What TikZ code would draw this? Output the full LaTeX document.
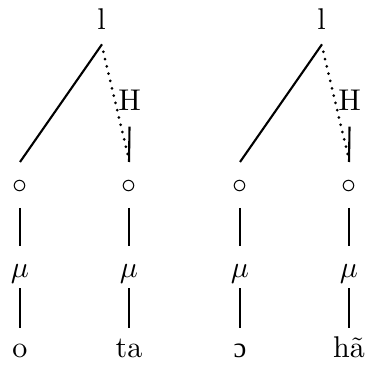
\documentclass[tikz,border=0pt]{standalone}
\usepackage{fontspec}
\newfontfamily\ipafont{Liberation Serif}
\usetikzlibrary{calc}
\tikzset{
  lbl/.style={inner sep=0pt, anchor=base},
  ln/.style={line width=0.7pt},
  dln/.style={line width=1pt, line cap=round, dash pattern=on 0pt off 2.5pt}
}
\begin{document}
\begin{tikzpicture}[x=0.3333pt, y=-0.3333pt]
\useasboundingbox (0,0) rectangle (366,367);
\foreach \dx/\ta/\tb/\s in {0/o/ta/1, 220/{\ipafont\fontsize{9.6pt}{12pt}\selectfont ɔ}/hã/2}{
  \node[lbl] (l\s) at (101.5+\dx,29.3) {l};
  \node[lbl] (h\s) at (129.5+\dx,110.7) {H};
  \node[lbl] (ca\s) at (20+\dx,193.5) {$\circ$};
  \node[lbl] (cb\s) at (129+\dx,193.5) {$\circ$};
  \node[lbl] (ma\s) at (20+\dx,277) {$\mu$};
  \node[lbl] (mb\s) at (129+\dx,277) {$\mu$};
  \node[lbl] (ba\s) at (20+\dx,357.5) {\ta};
  \node[lbl] (bb\s) at (129+\dx,357.5) {\tb};
  \draw[ln] ($(l\s.base)+(0.5,15)$) -- ($(ca\s.base)+(0,-31.5)$);
  \draw[dln] ($(l\s.base)+(1.8,22.5)$) -- ($(cb\s.base)+(-1,-38)$);
  \draw[ln] ($(h\s.base)+(0,16)$) -- ($(cb\s.base)+(0,-31.5)$);
  \draw[ln] ($(ca\s.base)+(0,14.5)$) -- ($(ma\s.base)+(0,-31)$);
  \draw[ln] ($(cb\s.base)+(0,14.5)$) -- ($(mb\s.base)+(0,-31)$);
  \draw[ln] ($(ma\s.base)+(0,11)$) -- ($(ba\s.base)+(0,-29.5)$);
  \draw[ln] ($(mb\s.base)+(0,11)$) -- ($(bb\s.base)+(0,-29.5)$);
}
\end{tikzpicture}
\end{document}
